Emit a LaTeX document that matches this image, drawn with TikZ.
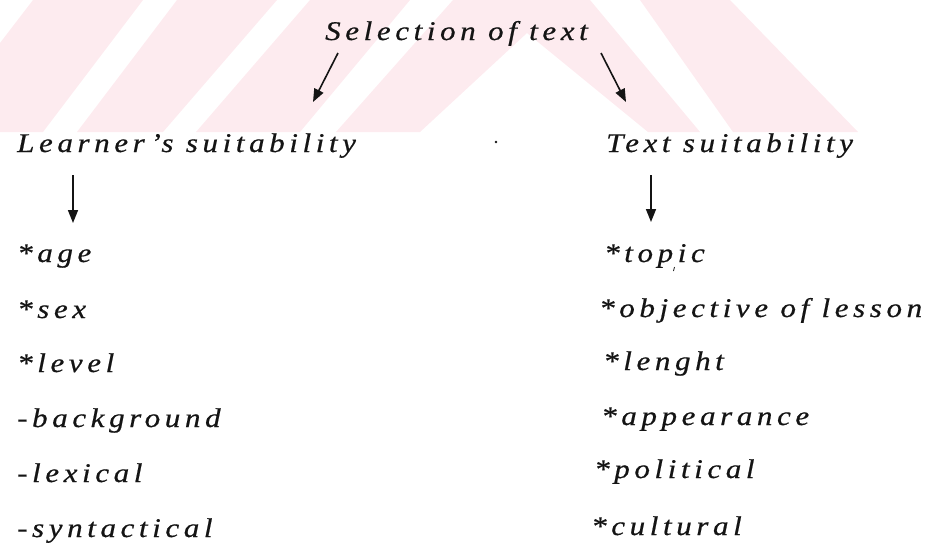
\documentclass[tikz,border=0pt]{standalone}
\usepackage{fontspec}
\setmainfont{Liberation Serif}
\newfontfamily\spacedit{Liberation Serif}[LetterSpace=17,FakeStretch=1.15,FakeBold=0.6]
\usetikzlibrary{arrows.meta}
\definecolor{wm}{RGB}{253,235,239}
\definecolor{ink}{RGB}{20,20,20}
\tikzset{
  lbl/.style={anchor=base west, inner sep=0pt, text=ink,
    font=\spacedit\itshape\fontsize{27}{32}\selectfont},
  arr/.style={draw=ink, line width=1.6pt, -{Triangle[length=13pt,width=10pt]}},
  wmfill/.style={fill=wm, draw=none}
}
\begin{document}
\begin{tikzpicture}[x=1pt,y=-1pt]
\useasboundingbox (0,0) rectangle (932,542);
% watermark stripes
\path[wmfill] (33,0) -- (143,0) -- (43,132) -- (0,132) -- (0,43) -- cycle;
\path[wmfill] (177,0) -- (277,0) -- (163,132) -- (77,132) -- cycle;
\path[wmfill] (310,0) -- (410,0) -- (300,132) -- (196,132) -- cycle;
\path[wmfill] (453,0) -- (590,0) -- (700,132) -- (648,132) -- (527,33) -- (420,132) -- (336,132) -- cycle;
\path[wmfill] (640,0) -- (730,0) -- (858,132) -- (733,132) -- cycle;
% texts
\node[lbl] (sel) at (325,40) {Selection of text};
\node[lbl] (ls) at (17,152) {Learner’s suitability};
\node[lbl] (ts) at (606,152) {Text suitability};
\node[lbl] (age) at (17,262) {*age};
\node[lbl] (sex) at (17,318) {*sex};
\node[lbl] (level) at (17,372) {*level};
\node[lbl] (bg) at (17,427) {-background};
\node[lbl] (lex) at (17,482) {-lexical};
\node[lbl] (syn) at (17,537) {-syntactical};
\node[lbl] (topic) at (604,262) {*topic};
\node[lbl] (obj) at (599,317) {*objective of lesson};
\node[lbl] (len) at (603,370) {*lenght};
\node[lbl] (app) at (601,425) {*appearance};
\node[lbl] (pol) at (594,478) {*political};
\node[lbl] (cul) at (591,535) {*cultural};
% stray marks
\fill[ink] (496,142) circle (1.3);
\draw[ink, line width=0.8pt] (674.5,267) -- (673.5,271);
% arrows
\coordinate (a1s) at (338,53);
\coordinate (a1e) at (313,102);
\coordinate (a2s) at (601,53);
\coordinate (a2e) at (626,102);
\coordinate (a3s) at (73,175);
\coordinate (a3e) at (73,223);
\coordinate (a4s) at (651,175);
\coordinate (a4e) at (651,222);
\draw[arr] (a1s) -- (a1e);
\draw[arr] (a2s) -- (a2e);
\draw[arr] (a3s) -- (a3e);
\draw[arr] (a4s) -- (a4e);
\end{tikzpicture}
\end{document}
